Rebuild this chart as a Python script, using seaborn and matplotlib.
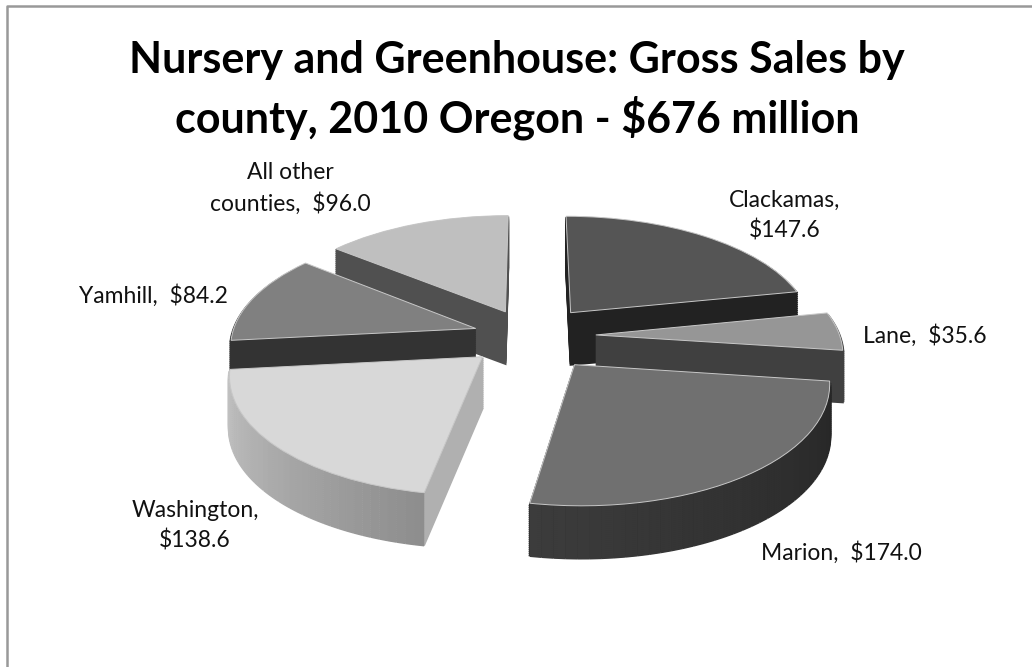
import numpy as np
import matplotlib
matplotlib.use("Agg")
import matplotlib.pyplot as plt
import seaborn as sns
from matplotlib.collections import LineCollection
from matplotlib.lines import Line2D
from matplotlib.transforms import Affine2D, Transform

counties = ["Clackamas", "Lane", "Marion", "Washington", "Yamhill", "All other counties"]
sales = [147.6, 35.6, 174.0, 138.6, 84.2, 96.0]
label_texts = ["Clackamas,\n\\$147.6", "Lane,  \\$35.6", "Marion,  \\$174.0",
               "Washington,\n\\$138.6", "Yamhill,  \\$84.2", "All other\ncounties,  \\$96.0"]
label_px = [(785, 216), (925, 336), (841, 553), (195, 526), (153, 296), (290, 188)]

top_colors = ["#555555", "#969696", "#707070", "#d8d8d8", "#808080", "#bfbfbf"]
side_colors = ["#222222", "#404040", "#2e2e2e", "#b0b0b0", "#333333", "#505050"]
rim_left = ["#222222", "#404040", "#3c3c3c", "#c6c6c6", "#333333", "#505050"]
rim_right = ["#222222", "#404040", "#262626", "#8e8e8e", "#333333", "#505050"]
explode = [0.27, 0.27, 0.30, 0.26, 0.234, 0.24]

# pixel layout of the pie, a is the perspective amount
cx, cy, rx, ry, a = 530, 336, 244, 114.6, 0.13
depth_px = 52
n_layers = 26


class Perspective(Transform):
    input_dims = 2
    output_dims = 2

    def transform_non_affine(self, values):
        values = np.asarray(values, dtype=float)
        w = 1 + a * values[:, 1]
        return values / w[:, None]


sns.set_theme(style="white")
plt.rcParams["font.family"] = ["Lato", "DejaVu Sans"]

fig = plt.figure(figsize=(10.32, 6.67), dpi=100)
ax = fig.add_axes([0, 0, 1, 1])

persp = Perspective()
for k in range(n_layers + 1):
    last = k == n_layers
    shift = Affine2D().translate(0, -(depth_px / ry) * (1 - k / n_layers))
    colors = top_colors if last else side_colors
    wedges, _ = ax.pie(sales, startangle=90, counterclock=False, explode=explode, colors=colors, normalize=True)
    for i, w in enumerate(wedges):
        w.set_transform(persp + shift + ax.transData)
        w.set_zorder(k * 2 + 2)
        if last:
            w.set_edgecolor("#c8c8c8")
            w.set_linewidth(0.7)
            continue
        w.set_edgecolor(colors[i])
        w.set_linewidth(1.5)
        # outer wall, shaded along the arc
        th = np.radians(np.linspace(w.theta1, w.theta2, 40))
        pts = np.column_stack([w.center[0] + np.cos(th), w.center[1] + np.sin(th)])
        segs = np.stack([pts[:-1], pts[1:]], axis=1)
        order = np.argsort(np.argsort(pts[:-1, 0]))
        pal = sns.blend_palette([rim_left[i], rim_right[i]], len(segs))
        lc = LineCollection(segs, colors=[pal[j] for j in order], linewidths=2.5, zorder=k * 2 + 3)
        lc.set_transform(persp + shift + ax.transData)
        ax.add_collection(lc)

ax.set_aspect("auto")
ax.set_xlim((0 - cx) / rx, (1032 - cx) / rx)
ax.set_ylim((cy - 667) / ry, cy / ry)
ax.axis("off")

for txt, (px, py) in zip(label_texts, label_px):
    fig.text(px / 1032, 1 - py / 667, txt, ha="center", va="center", fontsize=16.5,
             color="#111111", linespacing=1.5)

fig.text(517 / 1032, 1 - 60 / 667, "Nursery and Greenhouse: Gross Sales by", ha="center", va="center",
         fontsize=31, fontweight="bold", color="black")
fig.text(517 / 1032, 1 - 118 / 667, "county, 2010 Oregon - \\$676 million", ha="center", va="center",
         fontsize=31, fontweight="bold", color="black")

# chart area border, only the top and left show
fig.add_artist(Line2D([7 / 1032, 7 / 1032, 1], [0, 1 - 6 / 667, 1 - 6 / 667], color="#999999", lw=1.8))

fig.savefig("out.png", dpi=100)
